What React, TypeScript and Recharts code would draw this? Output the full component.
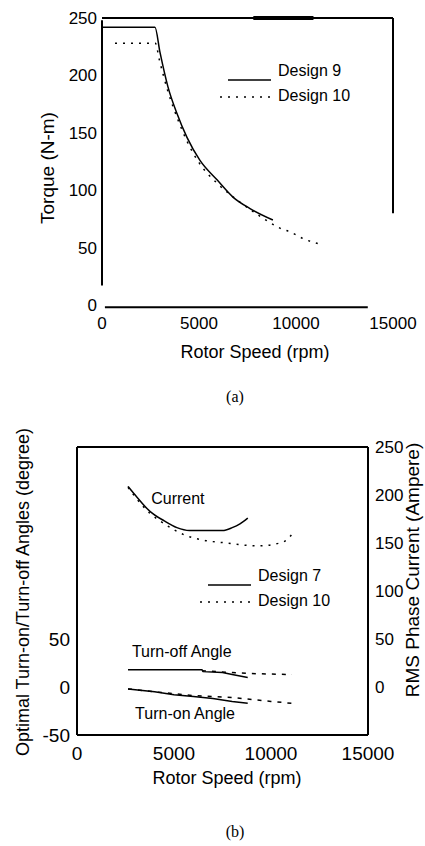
import React from 'react';
import {
	Legend,
	Line,
	LineChart,
	ReferenceDot,
	ReferenceLine,
	XAxis,
	YAxis,
} from 'recharts';

// shared x axis (rotor speed, rpm)
const speedTicks = [0, 5000, 10000, 15000];

// (a) torque vs speed
const torqueTicks = [0, 50, 100, 150, 200, 250];

const design9Torque = [
	{ speed: 0, torque: 242 },
	{ speed: 2730, torque: 242 },
	{ speed: 2990, torque: 220 },
	{ speed: 3400, torque: 190 },
	{ speed: 3860, torque: 167 },
	{ speed: 4380, torque: 146 },
	{ speed: 5050, torque: 126 },
	{ speed: 5930, torque: 109 },
	{ speed: 6750, torque: 94 },
	{ speed: 7630, torque: 84 },
	{ speed: 8810, torque: 74 },
];

const design10Torque = [
	{ speed: 670, torque: 228 },
	{ speed: 2750, torque: 228 },
	{ speed: 2950, torque: 214 },
	{ speed: 3400, torque: 186 },
	{ speed: 3900, torque: 162 },
	{ speed: 4400, torque: 142 },
	{ speed: 5000, torque: 124 },
	{ speed: 6000, torque: 105 },
	{ speed: 7000, torque: 91 },
	{ speed: 8000, torque: 79 },
	{ speed: 9170, torque: 67 },
	{ speed: 9790, torque: 63 },
	{ speed: 10350, torque: 58 },
	{ speed: 11230, torque: 53 },
];

// (b) angles (left axis) and phase current (right axis)
const angleTicks = [-50, 0, 50];
const currentTicks = [0, 50, 100, 150, 200, 250];

const design7Current = [
	{ speed: 2630, value: 209 },
	{ speed: 3000, value: 200 },
	{ speed: 3760, value: 183 },
	{ speed: 4500, value: 173 },
	{ speed: 5150, value: 166 },
	{ speed: 5800, value: 163 },
	{ speed: 7500, value: 163 },
	{ speed: 8000, value: 166 },
	{ speed: 8400, value: 170 },
	{ speed: 8800, value: 176 },
];

const design10Current = [
	{ speed: 2630, value: 208 },
	{ speed: 3000, value: 198 },
	{ speed: 3760, value: 181 },
	{ speed: 4500, value: 170 },
	{ speed: 5470, value: 159 },
	{ speed: 6500, value: 153 },
	{ speed: 7730, value: 150 },
	{ speed: 9280, value: 147 },
	{ speed: 10460, value: 150 },
	{ speed: 10800, value: 153 },
	{ speed: 11150, value: 161 },
];

const design7TurnOff = [
	{ speed: 2630, value: 18 },
	{ speed: 6440, value: 18 },
	{ speed: 6500, value: 16 },
	{ speed: 7500, value: 15 },
	{ speed: 8000, value: 13 },
	{ speed: 8800, value: 10 },
];

const design10TurnOff = [
	{ speed: 6440, value: 17 },
	{ speed: 8000, value: 15 },
	{ speed: 9000, value: 14 },
	{ speed: 10000, value: 13.5 },
	{ speed: 11080, value: 13 },
];

const design7TurnOn = [
	{ speed: 2630, value: -2 },
	{ speed: 4000, value: -5 },
	{ speed: 5000, value: -8 },
	{ speed: 6000, value: -10 },
	{ speed: 7000, value: -12 },
	{ speed: 8000, value: -15 },
	{ speed: 8800, value: -17 },
];

const design10TurnOn = [
	{ speed: 2630, value: -2 },
	{ speed: 4000, value: -5 },
	{ speed: 6000, value: -9 },
	{ speed: 7000, value: -10 },
	{ speed: 8000, value: -11 },
	{ speed: 9000, value: -13 },
	{ speed: 10000, value: -15 },
	{ speed: 11080, value: -17 },
];

const ink = '#000';
const dotted = '2 6';

const LegendBox = ({ labels }: { labels: string[] }) => (
	<svg width={150} height={55}>
		<line x1={12} x2={55} y1={25} y2={25} stroke={ink} strokeWidth={1.5} />
		<text x={62} y={15} fontSize={16} dominantBaseline='central' fill={ink}>
			{labels[0]}
		</text>
		<line x1={4} x2={55} y1={42} y2={42} stroke={ink} strokeWidth={1.5} strokeDasharray={dotted} />
		<text x={62} y={40} fontSize={16} dominantBaseline='central' fill={ink}>
			{labels[1]}
		</text>
	</svg>
);

const tickStyle = (size: number) => ({ fill: ink, fontSize: size });

const TorqueChart = () => (
	<LineChart width={425} height={400} margin={{ top: 18, right: 32, bottom: 65, left: 62 }}>
		<XAxis
			type='number'
			dataKey='speed'
			domain={[0, 15000]}
			ticks={speedTicks}
			height={30}
			axisLine={false}
			tickLine={false}
			tickSize={6}
			tickMargin={6}
			tick={tickStyle(17)}
		/>
		<YAxis
			domain={[0, 250]}
			ticks={torqueTicks}
			width={40}
			axisLine={false}
			tickLine={false}
			tickSize={3}
			tickMargin={2}
			tick={tickStyle(17)}
		/>
		<ReferenceLine segment={[{ x: 0, y: 250 }, { x: 15000, y: 250 }]} stroke={ink} strokeWidth={2} ifOverflow='visible' />
		<ReferenceLine segment={[{ x: 7800, y: 250 }, { x: 10900, y: 250 }]} stroke={ink} strokeWidth={4} ifOverflow='visible' />
		<ReferenceLine segment={[{ x: 0, y: 17 }, { x: 0, y: 248 }]} stroke={ink} strokeWidth={2} ifOverflow='visible' />
		<ReferenceLine segment={[{ x: 15000, y: 80 }, { x: 15000, y: 250 }]} stroke={ink} strokeWidth={2} ifOverflow='visible' />
		<ReferenceLine segment={[{ x: 150, y: -2 }, { x: 13700, y: -2 }]} stroke={ink} strokeWidth={2} ifOverflow='visible' />
		<Line data={design9Torque} dataKey='torque' type='monotone' stroke={ink} strokeWidth={1.5} dot={false} isAnimationActive={false} />
		<Line data={design10Torque} dataKey='torque' type='monotone' stroke={ink} strokeWidth={1.5} strokeDasharray={dotted} dot={false} isAnimationActive={false} />
		<Legend
			layout='vertical'
			align='center'
			verticalAlign='middle'
			wrapperStyle={{ left: 216, top: 55, width: 150 }}
			content={() => <LegendBox labels={['Design 9', 'Design 10']} />}
		/>
	</LineChart>
);

const AngleCurrentChart = () => (
	<LineChart width={425} height={423} margin={{ top: 24, right: 17, bottom: 81, left: 47 }}>
		<XAxis
			type='number'
			dataKey='speed'
			domain={[0, 15000]}
			ticks={speedTicks}
			height={30}
			axisLine={false}
			tickLine={false}
			tickSize={6}
			tickMargin={6}
			tick={tickStyle(19)}
		/>
		<YAxis
			yAxisId='angle'
			domain={[-50, 250]}
			ticks={angleTicks}
			width={30}
			axisLine={false}
			tickLine={false}
			tickSize={3}
			tickMargin={4}
			tick={tickStyle(19)}
		/>
		<YAxis
			yAxisId='current'
			orientation='right'
			domain={[-50, 250]}
			ticks={currentTicks}
			width={40}
			axisLine={false}
			tickLine={false}
			tickSize={3}
			tickMargin={4}
			tick={tickStyle(17)}
		/>
		<ReferenceLine yAxisId='angle' segment={[{ x: 0, y: 250 }, { x: 15000, y: 250 }]} stroke={ink} strokeWidth={2} ifOverflow='visible' />
		<ReferenceLine yAxisId='angle' segment={[{ x: 0, y: -50 }, { x: 15000, y: -50 }]} stroke={ink} strokeWidth={2} ifOverflow='visible' />
		<ReferenceLine yAxisId='angle' segment={[{ x: 0, y: -50 }, { x: 0, y: 250 }]} stroke={ink} strokeWidth={2} ifOverflow='visible' />
		<ReferenceLine yAxisId='angle' segment={[{ x: 15000, y: -50 }, { x: 15000, y: 250 }]} stroke={ink} strokeWidth={2} ifOverflow='visible' />
		<Line yAxisId='current' data={design7Current} dataKey='value' type='monotone' stroke={ink} strokeWidth={1.5} dot={false} isAnimationActive={false} />
		<Line yAxisId='current' data={design10Current} dataKey='value' type='monotone' stroke={ink} strokeWidth={1.5} strokeDasharray={dotted} dot={false} isAnimationActive={false} />
		<Line yAxisId='angle' data={design7TurnOff} dataKey='value' type='linear' stroke={ink} strokeWidth={1.5} dot={false} isAnimationActive={false} />
		<Line yAxisId='angle' data={design10TurnOff} dataKey='value' type='linear' stroke={ink} strokeWidth={1.5} strokeDasharray='4 6' dot={false} isAnimationActive={false} />
		<Line yAxisId='angle' data={design7TurnOn} dataKey='value' type='linear' stroke={ink} strokeWidth={1.5} dot={false} isAnimationActive={false} />
		<Line yAxisId='angle' data={design10TurnOn} dataKey='value' type='linear' stroke={ink} strokeWidth={1.5} strokeDasharray='4 6' dot={false} isAnimationActive={false} />
		<ReferenceDot yAxisId='current' x={5200} y={197} r={0} label={{ value: 'Current', position: 'center', fill: ink, fontSize: 16 }} />
		<ReferenceDot yAxisId='angle' x={5400} y={37} r={0} label={{ value: 'Turn-off Angle', position: 'center', fill: ink, fontSize: 16 }} />
		<ReferenceDot yAxisId='angle' x={5570} y={-27} r={0} label={{ value: 'Turn-on Angle', position: 'center', fill: ink, fontSize: 16 }} />
		<Legend
			layout='vertical'
			align='center'
			verticalAlign='middle'
			wrapperStyle={{ left: 196, top: 137, width: 150 }}
			content={() => <LegendBox labels={['Design 7', 'Design 10']} />}
		/>
	</LineChart>
);

export default function App() {
	return (
		<div
			style={{
				position: 'absolute',
				left: 0,
				top: 0,
				width: 425,
				height: 846,
				background: '#fff',
				fontFamily: '"Liberation Sans", Arial, sans-serif',
				overflow: 'hidden',
			}}
		>
			<div style={{ position: 'absolute', left: 0, top: 0 }}>
				<TorqueChart />
			</div>
			<div style={{ position: 'absolute', left: 0, top: 423 }}>
				<AngleCurrentChart />
			</div>
			<svg width={425} height={846} style={{ position: 'absolute', left: 0, top: 0, pointerEvents: 'none' }}>
				<text x={47} y={168} fontSize={19} textAnchor='middle' dominantBaseline='central' transform='rotate(-90 47 168)' fill={ink}>
					Torque (N-m)
				</text>
				<text x={255} y={352} fontSize={18} textAnchor='middle' dominantBaseline='central' fill={ink}>
					Rotor Speed (rpm)
				</text>
				<text x={235} y={396} fontSize={16} textAnchor='middle' dominantBaseline='central' fill={ink} fontFamily='"Liberation Serif", serif'>
					(a)
				</text>
				<text x={23} y={592} fontSize={18} textAnchor='middle' dominantBaseline='central' transform='rotate(-90 23 592)' fill={ink}>
					Optimal Turn-on/Turn-off Angles (degree)
				</text>
				<text x={412} y={570} fontSize={19} textAnchor='middle' dominantBaseline='central' transform='rotate(-90 412 570)' fill={ink}>
					RMS Phase Current (Ampere)
				</text>
				<text x={227} y={778} fontSize={18} textAnchor='middle' dominantBaseline='central' fill={ink}>
					Rotor Speed (rpm)
				</text>
				<text x={235} y={831} fontSize={16} textAnchor='middle' dominantBaseline='central' fill={ink} fontFamily='"Liberation Serif", serif'>
					(b)
				</text>
			</svg>
		</div>
	);
}
